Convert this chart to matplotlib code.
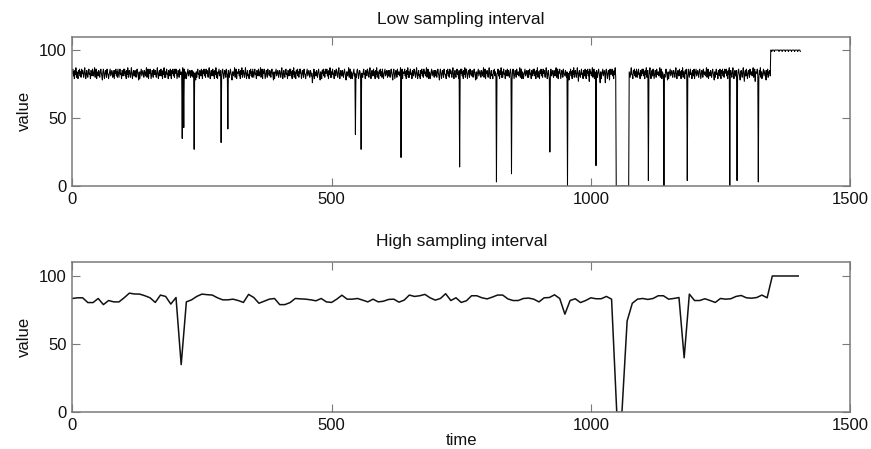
import matplotlib
matplotlib.use("Agg")
import matplotlib.pyplot as plt
import numpy as np

plt.rcParams['font.family'] = ['Liberation Sans', 'DejaVu Sans']

# ---------------- data ----------------
# Low sampling interval: one sample per time unit (t = 0 .. 1404)
low_values = [
    # 0-39
    83, 86, 81, 84, 79, 85, 82, 87, 80, 84,
    82, 79, 85, 83, 86, 81, 84, 80, 86, 83,
    85, 82, 80, 84, 87, 82, 79, 83, 85, 81,
    80, 84, 86, 82, 83, 79, 85, 84, 81, 86,
    # 40-79
    84, 81, 83, 87, 80, 82, 86, 79, 84, 83,
    81, 85, 82, 80, 84, 86, 83, 81, 78, 84,
    86, 83, 79, 82, 85, 84, 80, 86, 83, 82,
    79, 82, 84, 86, 81, 83, 85, 82, 80, 85,
    # 80-119
    82, 79, 85, 83, 86, 81, 84, 80, 86, 83,
    80, 84, 86, 82, 83, 79, 85, 84, 81, 86,
    83, 86, 81, 84, 79, 85, 82, 87, 80, 84,
    85, 82, 80, 84, 87, 82, 79, 83, 85, 81,
    # 120-159
    81, 85, 82, 80, 84, 86, 83, 81, 78, 84,
    79, 82, 84, 86, 81, 83, 85, 82, 80, 85,
    84, 81, 83, 87, 80, 82, 86, 79, 84, 83,
    86, 83, 79, 82, 85, 84, 80, 86, 83, 82,
    # 160-199
    85, 82, 80, 84, 87, 82, 79, 83, 85, 81,
    83, 86, 81, 84, 79, 85, 82, 87, 80, 84,
    80, 84, 86, 82, 83, 79, 85, 84, 81, 86,
    82, 79, 85, 83, 86, 81, 84, 80, 86, 83,
    # 200-239
    86, 83, 79, 82, 85, 84, 80, 86, 83, 82,
    84, 81, 35, 87, 80, 43, 86, 79, 84, 83,
    79, 82, 84, 86, 81, 83, 85, 82, 80, 85,
    81, 85, 82, 80, 84, 27, 83, 81, 78, 84,
    # 240-279
    80, 84, 86, 82, 83, 79, 85, 84, 81, 86,
    82, 79, 85, 83, 86, 81, 84, 80, 86, 83,
    85, 82, 80, 84, 87, 82, 79, 83, 85, 81,
    83, 86, 81, 84, 79, 85, 82, 87, 80, 84,
    # 280-319
    79, 82, 84, 86, 81, 83, 85, 32, 80, 85,
    86, 83, 79, 82, 85, 84, 80, 86, 83, 82,
    42, 85, 82, 80, 84, 86, 83, 81, 78, 84,
    84, 81, 83, 87, 80, 82, 86, 79, 84, 83,
    # 320-359
    83, 86, 81, 84, 79, 85, 82, 87, 80, 84,
    85, 82, 80, 84, 87, 82, 79, 83, 85, 81,
    82, 79, 85, 83, 86, 81, 84, 80, 86, 83,
    80, 84, 86, 82, 83, 79, 85, 84, 81, 86,
    # 360-399
    84, 81, 83, 87, 80, 82, 86, 79, 84, 83,
    86, 83, 79, 82, 85, 84, 80, 86, 83, 82,
    81, 85, 82, 80, 84, 86, 83, 81, 78, 84,
    79, 82, 84, 86, 81, 83, 85, 82, 80, 85,
    # 400-439
    85, 82, 80, 84, 87, 82, 79, 83, 85, 81,
    80, 84, 86, 82, 83, 79, 85, 84, 81, 86,
    83, 86, 81, 84, 79, 85, 82, 87, 80, 84,
    82, 79, 85, 83, 86, 81, 84, 80, 86, 83,
    # 440-479
    86, 83, 79, 82, 85, 84, 80, 86, 83, 82,
    79, 82, 84, 86, 81, 83, 85, 82, 80, 85,
    84, 81, 83, 76, 80, 82, 86, 79, 84, 83,
    81, 85, 82, 80, 84, 86, 83, 81, 78, 84,
    # 480-519
    82, 79, 85, 83, 86, 81, 84, 80, 86, 83,
    83, 86, 81, 84, 79, 85, 82, 87, 80, 84,
    80, 84, 86, 82, 83, 79, 85, 84, 81, 86,
    85, 82, 80, 84, 87, 82, 79, 83, 85, 81,
    # 520-559
    81, 85, 82, 80, 84, 86, 83, 81, 78, 84,
    84, 81, 83, 87, 80, 82, 86, 79, 84, 83,
    79, 82, 84, 86, 81, 83, 38, 82, 80, 85,
    86, 83, 79, 82, 85, 84, 80, 27, 83, 82,
    # 560-599
    80, 84, 86, 82, 83, 79, 85, 84, 81, 86,
    85, 82, 80, 84, 87, 82, 79, 83, 85, 81,
    83, 86, 81, 84, 79, 85, 82, 87, 80, 84,
    82, 79, 85, 83, 86, 81, 84, 80, 86, 83,
    # 600-639
    79, 82, 84, 86, 81, 83, 85, 82, 80, 85,
    81, 85, 82, 80, 84, 86, 83, 81, 78, 84,
    86, 83, 79, 82, 85, 84, 80, 86, 83, 82,
    84, 81, 83, 87, 21, 82, 86, 79, 84, 83,
    # 640-679
    83, 86, 81, 84, 79, 85, 82, 87, 80, 84,
    80, 84, 86, 82, 83, 79, 85, 84, 81, 86,
    85, 82, 80, 84, 87, 82, 79, 83, 85, 81,
    82, 79, 85, 83, 86, 81, 84, 80, 86, 83,
    # 680-719
    84, 81, 83, 87, 80, 82, 86, 79, 84, 83,
    79, 82, 84, 86, 81, 83, 85, 82, 80, 85,
    81, 85, 82, 80, 84, 86, 83, 81, 78, 84,
    86, 83, 79, 82, 85, 84, 80, 86, 83, 82,
    # 720-759
    82, 79, 85, 83, 86, 81, 84, 80, 86, 83,
    85, 82, 80, 84, 87, 82, 79, 83, 85, 81,
    80, 84, 86, 82, 83, 79, 85, 14, 81, 86,
    83, 86, 81, 84, 79, 85, 82, 87, 80, 84,
    # 760-799
    86, 83, 79, 82, 85, 84, 80, 86, 83, 82,
    81, 85, 82, 80, 84, 86, 83, 81, 78, 84,
    79, 82, 84, 86, 81, 83, 85, 82, 80, 85,
    84, 81, 83, 87, 80, 82, 86, 79, 84, 83,
    # 800-839
    85, 82, 80, 84, 87, 82, 79, 83, 85, 81,
    82, 79, 85, 83, 86, 81, 84, 80, 3, 83,
    83, 86, 81, 84, 79, 85, 82, 87, 80, 84,
    80, 84, 86, 82, 83, 79, 85, 84, 81, 86,
    # 840-879
    81, 85, 82, 80, 84, 86, 83, 9, 78, 84,
    86, 83, 79, 82, 85, 84, 80, 86, 83, 82,
    84, 81, 83, 87, 80, 82, 86, 79, 84, 83,
    79, 82, 84, 86, 81, 83, 85, 82, 80, 85,
    # 880-919
    80, 84, 86, 82, 83, 79, 85, 84, 81, 86,
    83, 86, 81, 84, 79, 85, 82, 87, 80, 84,
    82, 79, 85, 83, 86, 81, 84, 80, 86, 83,
    85, 82, 80, 84, 87, 82, 79, 83, 85, 81,
    # 920-959
    79, 25, 84, 86, 81, 83, 85, 82, 80, 85,
    84, 81, 83, 87, 80, 82, 86, 79, 84, 83,
    86, 83, 79, 82, 85, 84, 80, 86, 83, 82,
    81, 85, 82, 80, 84, 0, 83, 81, 78, 84,
    # 960-999
    83, 86, 81, 84, 79, 85, 82, 87, 80, 84,
    85, 82, 80, 84, 87, 82, 77, 83, 85, 81,
    80, 84, 86, 82, 83, 79, 85, 84, 81, 86,
    82, 79, 85, 83, 86, 81, 84, 77, 86, 83,
    # 1000-1039
    84, 81, 83, 87, 80, 82, 86, 79, 84, 83,
    15, 85, 82, 80, 84, 86, 83, 81, 76, 84,
    79, 82, 84, 86, 81, 83, 85, 82, 76, 85,
    86, 83, 79, 82, 85, 84, 78, 86, 83, 82,
    # 1040-1079
    83, 86, 81, 84, 79, 85, 82, 87, 80, 0,
    0, 0, 0, 0, 0, 0, 0, 0, 0, 0,
    0, 0, 0, 0, 0, 0, 0, 0, 0, 0,
    0, 0, 0, 0, 84, 82, 80, 84, 87, 82,
    # 1080-1119
    82, 79, 85, 83, 86, 81, 84, 80, 86, 83,
    80, 84, 86, 82, 83, 79, 85, 84, 81, 86,
    83, 86, 81, 84, 79, 85, 82, 87, 80, 84,
    85, 4, 80, 84, 87, 82, 79, 83, 85, 81,
    # 1120-1159
    86, 83, 79, 82, 85, 84, 80, 86, 83, 82,
    84, 81, 83, 87, 80, 82, 86, 79, 84, 83,
    81, 0, 82, 80, 84, 86, 83, 81, 78, 84,
    79, 82, 84, 86, 81, 83, 85, 82, 80, 85,
    # 1160-1199
    85, 82, 80, 84, 87, 82, 79, 83, 85, 81,
    83, 86, 81, 84, 79, 85, 82, 87, 80, 84,
    82, 79, 85, 83, 86, 81, 4, 80, 86, 83,
    80, 84, 86, 82, 83, 79, 85, 84, 81, 86,
    # 1200-1239
    79, 82, 84, 86, 81, 83, 85, 82, 80, 85,
    86, 83, 79, 82, 85, 84, 80, 86, 83, 82,
    84, 81, 83, 87, 80, 82, 86, 79, 84, 83,
    81, 85, 82, 80, 84, 86, 83, 81, 78, 84,
    # 1240-1279
    80, 84, 86, 82, 83, 79, 85, 84, 81, 86,
    82, 79, 85, 83, 86, 81, 84, 80, 86, 83,
    83, 86, 81, 84, 79, 85, 82, 87, 0, 84,
    85, 82, 80, 84, 87, 82, 79, 83, 85, 81,
    # 1280-1319
    81, 85, 4, 80, 84, 86, 83, 81, 78, 84,
    85, 82, 80, 84, 87, 82, 77, 83, 85, 81,
    86, 83, 79, 82, 85, 84, 80, 86, 83, 82,
    84, 81, 83, 87, 80, 82, 86, 77, 84, 83,
    # 1320-1359
    83, 86, 81, 3, 79, 85, 82, 87, 80, 84,
    79, 82, 84, 86, 81, 83, 85, 82, 78, 85,
    82, 86, 80, 84, 83, 85, 81, 100, 100, 99,
    100, 100, 100, 100, 99, 100, 100, 100, 100, 100,
    # 1360-1404
    100, 100, 100, 99, 100, 100, 100, 100, 100, 99,
    100, 100, 100, 100, 100, 99, 100, 100, 100, 100,
    100, 99, 100, 100, 100, 100, 100, 99, 100, 100,
    100, 100, 100, 99, 100, 100, 100, 100, 100, 99,
    100, 100, 100, 100, 99,
]

# High sampling interval: one sample every 10 time units (t = 0 .. 1400)
high_step = 10
high_values = [
    83.5, 84, 84, 80.5, 80.5, 83.5, 79, 82, 81, 81,
    84, 87.4, 86.8, 86.7, 85.5, 84, 80.6, 86, 85, 79.4,
    84.2, 35, 81, 82.5, 85, 86.7, 86.3, 86, 84, 82.5,
    82.5, 83, 82, 80.6, 86.5, 84.2, 80, 81.5, 83, 83.5,
    79, 79, 80.5, 83.5, 83.2, 83, 82.5, 81.8, 83.5, 81,
    80.6, 83, 85.9, 83, 83, 83.5, 82.3, 81, 83, 81,
    81.5, 82.8, 83, 80.8, 82.3, 86, 85, 85.5, 86.5, 84,
    82.3, 83.5, 87, 82, 84, 80.6, 81.8, 85.5, 85.5, 84,
    83.2, 84.5, 86, 86, 83.2, 82, 82, 83.5, 83.8, 83,
    81, 84, 84.2, 86.2, 83.5, 72, 82, 83.3, 80.5, 82,
    84, 83.3, 83.3, 85, 83, 0, 0, 67, 80, 83,
    83.5, 82.8, 83.5, 85.5, 85.5, 83, 83.5, 84.2, 40, 86.7,
    82, 82, 83.3, 82, 80.6, 83.5, 83, 83.3, 85, 85.7,
    84, 83.7, 84.2, 86, 84, 100, 100, 100, 100, 100,
    100,
]

titles = ["Low sampling interval", "High sampling interval"]
title_pads = [9, 12]
y_label = "value"
x_label = "time"
x_ticks = [0, 500, 1000, 1500]
y_ticks = [0, 50, 100]

# ---------------- plot ----------------
fig = plt.figure(figsize=(8.71, 4.49), dpi=100)
frame_col = "#7a7a7a"
text_col = "#111111"

ax1 = fig.add_axes([0.083, 0.5857, 0.893, 0.333])
ax2 = fig.add_axes([0.083, 0.0817, 0.893, 0.334])

t_low = np.arange(len(low_values))
t_high = np.arange(len(high_values)) * high_step

ax1.plot(t_low, low_values, color="#000000", lw=0.75, zorder=2)
ax2.plot(t_high, high_values, color="#111111", lw=1.1, zorder=2)

for ax, title, tp in zip([ax1, ax2], titles, title_pads):
    ax.set_xlim(0, 1500)
    ax.set_ylim(0, 110)
    ax.set_xticks(x_ticks)
    ax.set_yticks(y_ticks)
    ax.set_title(title, fontsize=12.5, pad=tp, color=text_col)
    ax.set_ylabel(y_label, fontsize=12, labelpad=5, color=text_col)
    ax.tick_params(direction="in", length=6, width=0.8, color=frame_col,
                   labelsize=12, labelcolor=text_col, top=True, right=True)
    ax.tick_params(axis="x", pad=4)
    ax.tick_params(axis="y", pad=4)
    for s in ax.spines.values():
        s.set_color(frame_col)
        s.set_linewidth(1.1)
        s.set_zorder(3)

ax2.set_xlabel(x_label, fontsize=12, labelpad=0, color=text_col)

fig.savefig("out.png", dpi=100)
